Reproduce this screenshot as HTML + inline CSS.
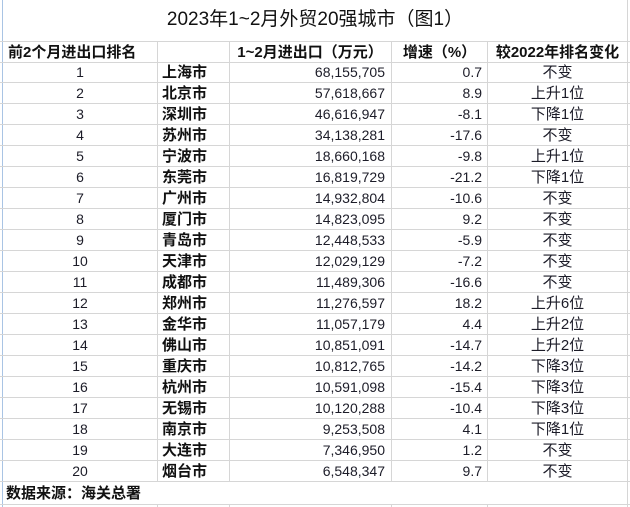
<!DOCTYPE html>
<html><head><meta charset="utf-8"><style>
body{margin:0;background:#fff;}
#w{position:relative;width:630px;height:507px;overflow:hidden;background:#fff;font-family:"Liberation Sans","Noto Sans CJK SC",sans-serif;color:#1c1c28;}
.h{position:absolute;left:0;width:630px;height:1px;background:#d6d6d6;}
.v{position:absolute;width:1px;background:#d6d6d6;}
.c{position:absolute;height:21px;line-height:21px;font-size:14px;white-space:nowrap;}
.b{font-size:15px;font-weight:bold;color:#111;}
</style></head><body><div id="w">
<div style="position:absolute;left:2px;top:0;width:1px;height:507px;background:#a9c4e4"></div>
<div class="c" style="left:0;width:630px;top:6px;height:28px;line-height:28px;text-align:center;font-size:19px;color:#111">2023年1~2月外贸20强城市（图1）</div>
<div class="h" style="top:41px"></div>
<div class="c b" style="left:8px;top:42px">前2个月进出口排名</div>
<div class="c b" style="left:229px;width:162px;top:42px;text-align:center">1~2月进出口（万元）</div>
<div class="c b" style="left:392px;width:95px;top:42px;text-align:center">增速（%）</div>
<div class="c b" style="left:487px;width:141px;top:42px;text-align:center">较2022年排名变化</div>
<div id="rows"></div>
<script>
var d=[["上海市","68,155,705","0.7","不变"],["北京市","57,618,667","8.9","上升1位"],["深圳市","46,616,947","-8.1","下降1位"],["苏州市","34,138,281","-17.6","不变"],["宁波市","18,660,168","-9.8","上升1位"],["东莞市","16,819,729","-21.2","下降1位"],["广州市","14,932,804","-10.6","不变"],["厦门市","14,823,095","9.2","不变"],["青岛市","12,448,533","-5.9","不变"],["天津市","12,029,129","-7.2","不变"],["成都市","11,489,306","-16.6","不变"],["郑州市","11,276,597","18.2","上升6位"],["金华市","11,057,179","4.4","上升2位"],["佛山市","10,851,091","-14.7","上升2位"],["重庆市","10,812,765","-14.2","下降3位"],["杭州市","10,591,098","-15.4","下降3位"],["无锡市","10,120,288","-10.4","下降3位"],["南京市","9,253,508","4.1","下降1位"],["大连市","7,346,950","1.2","不变"],["烟台市","6,548,347","9.7","不变"]];
var h='';
h+='<div class="h" style="top:62px"></div>';
for(var i=0;i<20;i++){var t=62+i*21;var r=d[i];
h+='<div class="c" style="left:3px;width:154px;top:'+t+'px;text-align:center">'+(i+1)+'</div>';
h+='<div class="c b" style="left:162px;top:'+t+'px">'+r[0]+'</div>';
h+='<div class="c" style="left:229px;width:156px;top:'+t+'px;text-align:right">'+r[1]+'</div>';
h+='<div class="c" style="left:392px;width:90px;top:'+t+'px;text-align:right">'+r[2]+'</div>';
h+='<div class="c" style="left:487px;width:141px;top:'+t+'px;text-align:center;font-size:15px">'+r[3]+'</div>';
h+='<div class="h" style="top:'+(t+20)+'px"></div>';}
[157,229,391,487,627].forEach(function(x){h+='<div class="v" style="left:'+x+'px;top:41px;height:441px"></div>';h+='<div class="v" style="left:'+x+'px;top:504px;height:3px"></div>';});
h+='<div class="v" style="left:627px;top:0;height:507px"></div>';
h+='<div class="c b" style="left:6px;top:483px">数据来源：海关总署</div>';
h+='<div class="h" style="top:504px"></div>';
document.getElementById('rows').innerHTML=h;
</script>
</div></body></html>
